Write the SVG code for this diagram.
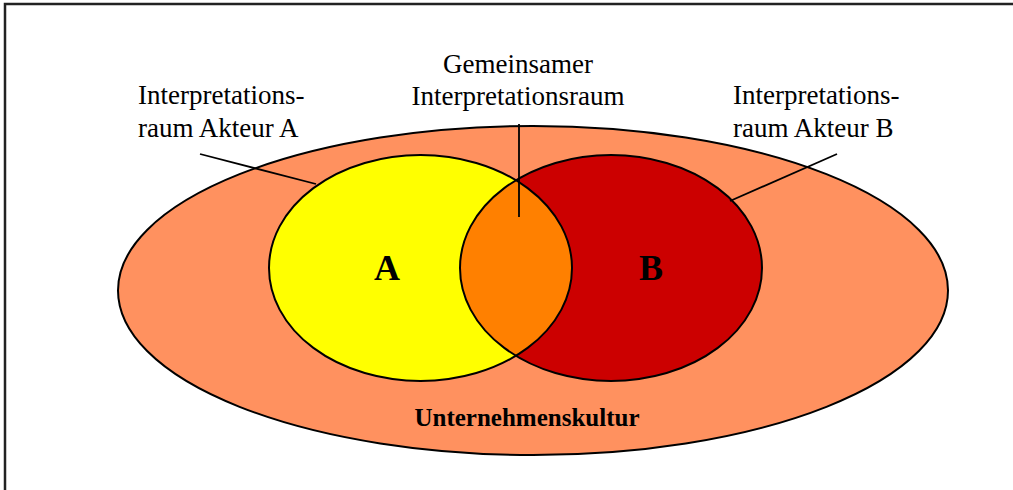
<svg xmlns="http://www.w3.org/2000/svg" width="1013" height="490" viewBox="0 0 1013 490">
<style>
.lbl{font-family:"Liberation Serif","Times New Roman",serif;font-size:27px;fill:#000}
.big{font-family:"Liberation Serif","Times New Roman",serif;font-weight:bold;fill:#000}
.edge{stroke:#000;stroke-width:1.8;fill:none}
.shape{stroke:#000;stroke-width:2}
</style>
<defs>
<clipPath id="clipA"><ellipse cx="420.5" cy="268" rx="151.5" ry="113"/></clipPath>
</defs>
<rect x="5" y="4" width="1030" height="510" fill="#fff" stroke="#222" stroke-width="2.5"/>
<g id="kultur">
<ellipse class="shape" cx="533" cy="290.5" rx="415" ry="164.5" fill="#FF915F"/>
<text class="big" x="527" y="426" font-size="25" text-anchor="middle">Unternehmenskultur</text>
</g>
<g id="akteurA">
<ellipse cx="420.5" cy="268" rx="151.5" ry="113" fill="#FFFF00"/>
<text class="big" x="387" y="280" font-size="36" text-anchor="middle">A</text>
</g>
<g id="akteurB">
<ellipse cx="611" cy="268" rx="151" ry="113" fill="#CC0000"/>
<text class="big" x="651" y="280" font-size="36" text-anchor="middle">B</text>
</g>
<g id="gemeinsam">
<ellipse cx="611" cy="268" rx="151" ry="113" fill="#FF8000" clip-path="url(#clipA)"/>
<ellipse class="shape" cx="420.5" cy="268" rx="151.5" ry="113" fill="none"/>
<ellipse class="shape" cx="611" cy="268" rx="151" ry="113" fill="none"/>
</g>
<g id="connectors">
<line class="edge" x1="200" y1="154" x2="316" y2="184"/>
<line class="edge" x1="837" y1="154" x2="730" y2="201"/>
<line class="edge" x1="519" y1="124" x2="519" y2="217"/>
</g>
<g id="labelA">
<text class="lbl" x="138" y="104">Interpretations-</text>
<text class="lbl" x="138" y="137">raum Akteur A</text>
</g>
<g id="labelB">
<text class="lbl" x="733" y="104">Interpretations-</text>
<text class="lbl" x="733" y="137">raum Akteur B</text>
</g>
<g id="labelGemeinsam">
<text class="lbl" x="518" y="73" text-anchor="middle">Gemeinsamer</text>
<text class="lbl" x="518" y="105" text-anchor="middle">Interpretationsraum</text>
</g>
</svg>
